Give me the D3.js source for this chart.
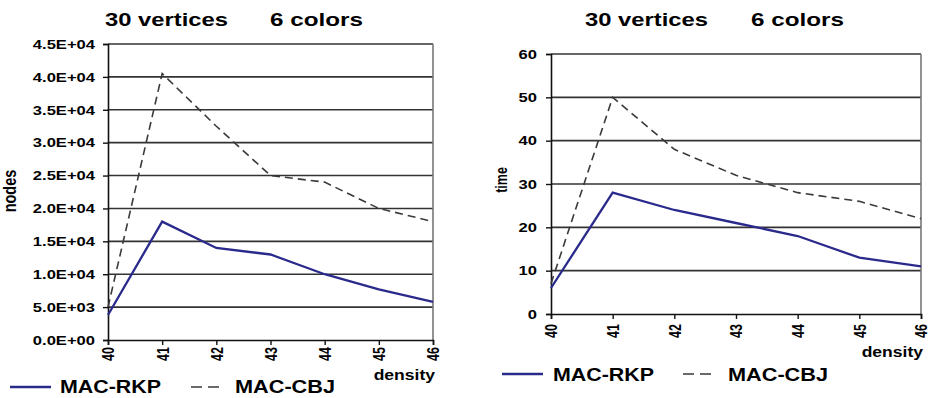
<!DOCTYPE html>
<html>
<head>
<meta charset="utf-8">
<script src="https://cdn.jsdelivr.net/npm/d3@7"></script>
<style>
  body { margin: 0; background: #fff; }
  svg { display: block; }
  text { font-family: "Liberation Sans", Arial, sans-serif; font-weight: bold; fill: #000; }
</style>
</head>
<body>
<svg id="chart" width="931" height="398"></svg>
<script>
// data
const density = [40, 41, 42, 43, 44, 45, 46];
const nodesRKP = [3800, 18000, 14000, 13000, 10000, 7700, 5800];
const nodesCBJ = [5000, 40500, 32500, 25000, 24000, 20000, 18000];
const timeRKP = [6, 28, 24, 21, 18, 13, 11];
const timeCBJ = [7, 50, 38, 32, 28, 26, 22];
const nodeTicks = [0, 5000, 10000, 15000, 20000, 25000, 30000, 35000, 40000, 45000];
const nodeTickLabels = ["0.0E+00", "5.0E+03", "1.0E+04", "1.5E+04", "2.0E+04",
  "2.5E+04", "3.0E+04", "3.5E+04", "4.0E+04", "4.5E+04"];
const timeTicks = [0, 10, 20, 30, 40, 50, 60];
const timeTickLabels = ["0", "10", "20", "30", "40", "50", "60"];
const seriesNames = ["MAC-RKP", "MAC-CBJ"];

const svg = d3.select("#chart");
const blue = "#2a2a8c", grey = "#3a3a3a";

// stretch text horizontally, the source picture is wider than it is tall
function widen(sel, k) {
  sel.each(function () {
    const w = this.getComputedTextLength();
    this.setAttribute("textLength", w * k);
    this.setAttribute("lengthAdjust", "spacingAndGlyphs");
  });
}

function drawPanel(p) {
  const g = svg.append("g");
  const x = d3.scaleLinear().domain([40, 46]).range([p.left, p.right]);
  const y = d3.scaleLinear().domain([0, p.ymax]).range([p.bottom, p.top]);

  // grid
  g.selectAll(".grid")
    .data(p.ticks.slice(1))
    .enter()
    .append("line")
    .attr("x1", p.left).attr("x2", p.right)
    .attr("y1", d => y(d)).attr("y2", d => y(d))
    .attr("stroke", "#333").attr("stroke-width", 1.6);

  g.append("line")
    .attr("x1", p.right).attr("x2", p.right)
    .attr("y1", p.top).attr("y2", p.bottom)
    .attr("stroke", "#777").attr("stroke-width", 1.6);

  // y axis
  const ya = g.append("g")
    .attr("transform", "translate(" + p.left + ",0)")
    .call(d3.axisLeft(y).tickValues(p.ticks).tickSize(5).tickPadding(p.ypad)
      .tickFormat((d, i) => p.tickLabels[i]));
  ya.select(".domain").attr("stroke", "#111").attr("stroke-width", 1.6);
  ya.selectAll(".tick line").attr("stroke", "#111").attr("stroke-width", 1.4);
  ya.selectAll("text")
    .attr("font-size", 12)
    .attr("dy", "0.36em")
    .style("font-family", "'Liberation Sans', Arial, sans-serif")
    .style("font-weight", "bold")
    .style("fill", "#000")
    .call(widen, 1.38);

  // x axis
  const xa = g.append("g")
    .attr("transform", "translate(0," + p.bottom + ")")
    .call(d3.axisBottom(x).tickValues(density).tickSize(5).tickFormat(d3.format("d")));
  xa.select(".domain").attr("stroke", "#111").attr("stroke-width", 1.6);
  xa.selectAll(".tick line").attr("stroke", "#111").attr("stroke-width", 1.4);
  xa.selectAll("text")
    .attr("font-size", 12.5)
    .attr("transform", "rotate(-90) scale(1,1.3)")
    .attr("text-anchor", "end")
    .attr("x", -p.xpad)
    .attr("y", 0)
    .attr("dy", "0.36em")
    .style("font-family", "'Liberation Sans', Arial, sans-serif")
    .style("font-weight", "bold")
    .style("fill", "#000");

  // lines
  const line = d3.line().x((d, i) => x(density[i])).y(d => y(d));
  g.append("path")
    .datum(p.cbj)
    .attr("d", line)
    .attr("fill", "none")
    .attr("stroke", grey)
    .attr("stroke-width", 1.6)
    .attr("stroke-dasharray", "8,5");
  g.append("path")
    .datum(p.rkp)
    .attr("d", line)
    .attr("fill", "none")
    .attr("stroke", blue)
    .attr("stroke-width", 2.3);

  // titles
  g.append("text").attr("x", p.t1).attr("y", 26).attr("font-size", 17.5)
    .text("30 vertices").attr("textLength", 123).attr("lengthAdjust", "spacingAndGlyphs");
  g.append("text").attr("x", p.t2).attr("y", 26).attr("font-size", 17.5)
    .text("6 colors").attr("textLength", 93).attr("lengthAdjust", "spacingAndGlyphs");

  // axis titles
  g.append("text")
    .attr("transform", "translate(" + p.ylabX + "," + p.ylabY + ") rotate(-90) scale(1,1.25)")
    .attr("text-anchor", "middle")
    .attr("font-size", p.ylabSize)
    .text(p.ylabel);
  g.append("text")
    .attr("x", p.right + 2).attr("y", p.densY)
    .attr("text-anchor", "end")
    .attr("font-size", 15.5)
    .text("density")
    .call(widen, 1.13);

  // legend
  const lg = g.append("g").attr("transform", "translate(0," + p.legY + ")");
  lg.append("line").attr("x1", p.leg[0]).attr("x2", p.leg[0] + 41)
    .attr("y1", 0).attr("y2", 0).attr("stroke", blue).attr("stroke-width", 2.3);
  lg.append("text").attr("x", p.leg[1]).attr("y", p.legText).attr("font-size", 18)
    .text(seriesNames[0]).attr("textLength", 101).attr("lengthAdjust", "spacingAndGlyphs");
  lg.append("line").attr("x1", p.leg[2]).attr("x2", p.leg[2] + 29)
    .attr("y1", 0).attr("y2", 0).attr("stroke", grey).attr("stroke-width", 1.6)
    .attr("stroke-dasharray", "11,6");
  lg.append("text").attr("x", p.leg[3]).attr("y", p.legText).attr("font-size", 18)
    .text(seriesNames[1]).attr("textLength", 100).attr("lengthAdjust", "spacingAndGlyphs");
}

drawPanel({
  left: 108, right: 433, top: 44, bottom: 340, ymax: 45000,
  ticks: nodeTicks, tickLabels: nodeTickLabels, ypad: 8, xpad: 7,
  rkp: nodesRKP, cbj: nodesCBJ,
  t1: 105, t2: 270,
  ylabel: "nodes", ylabX: 16, ylabY: 191, ylabSize: 14.5,
  densY: 380,
  legY: 387, legText: 6, leg: [10, 60, 191, 235]
});

drawPanel({
  left: 551, right: 921, top: 54, bottom: 314, ymax: 60,
  ticks: timeTicks, tickLabels: timeTickLabels, ypad: 9, xpad: 10,
  rkp: timeRKP, cbj: timeCBJ,
  t1: 585, t2: 751,
  ylabel: "time", ylabX: 507, ylabY: 180, ylabSize: 12.5,
  densY: 357,
  legY: 374, legText: 7, leg: [502, 553, 683, 728]
});
</script>
</body>
</html>
